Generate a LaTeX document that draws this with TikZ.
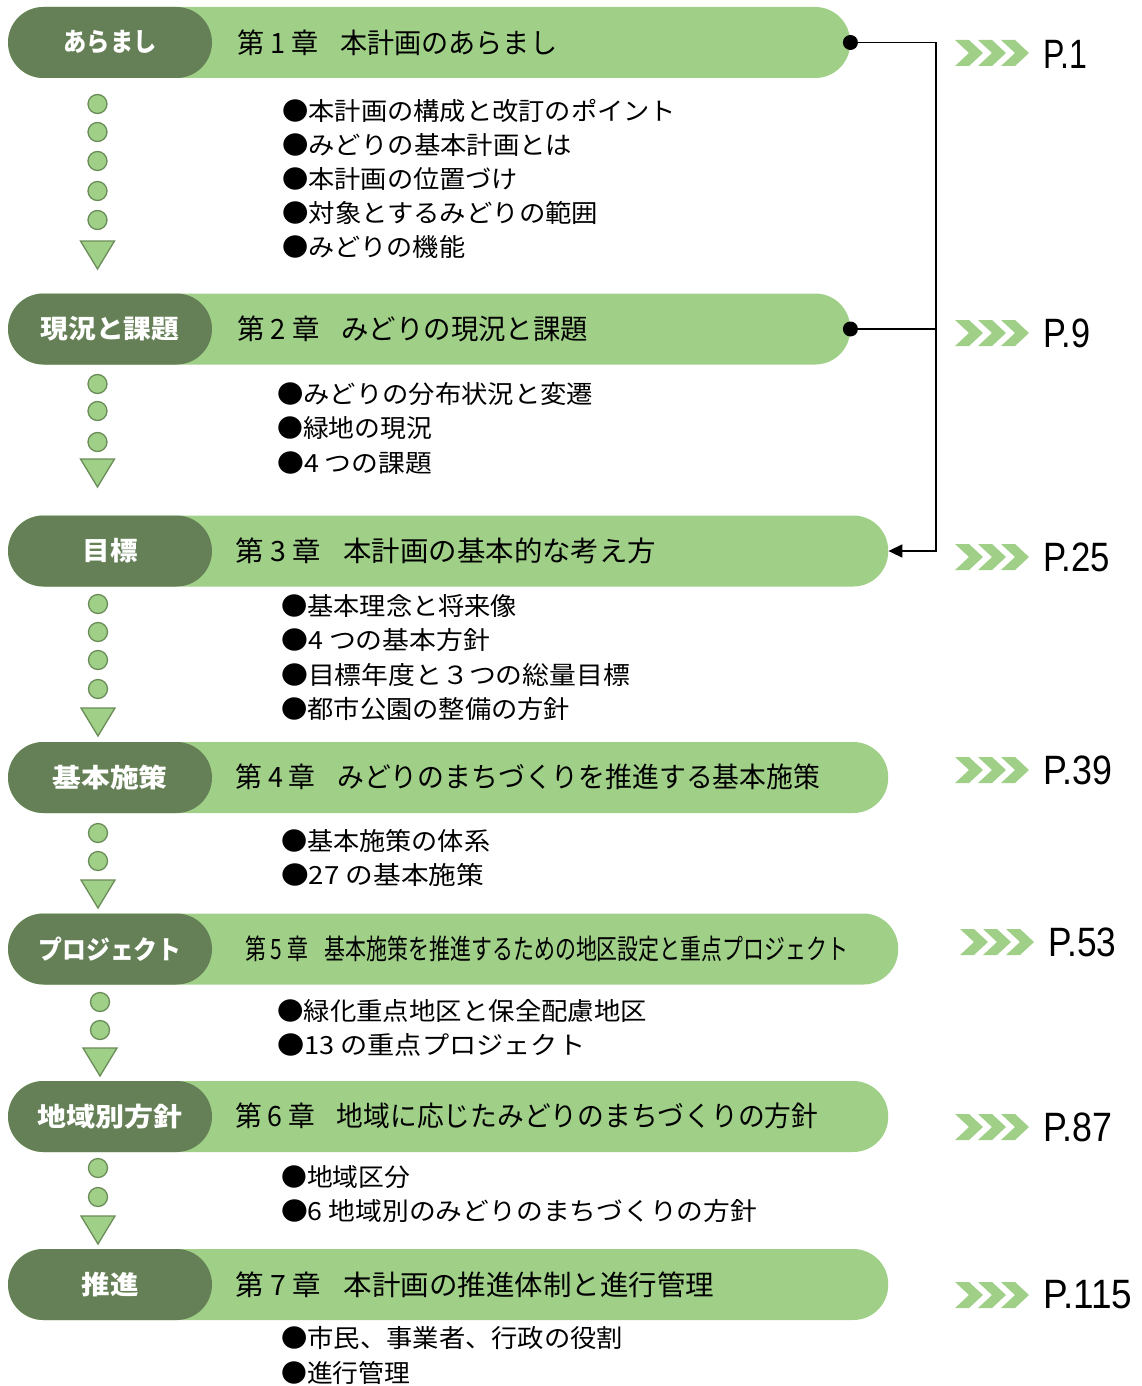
\documentclass[tikz,border=0pt]{standalone}
\usepackage{fontspec}
\usepackage{graphicx}
\setmainfont{Noto Sans CJK JP}
\newfontfamily\pgfont{Liberation Sans}
\usetikzlibrary{shapes.misc,arrows.meta}
\definecolor{dgreen}{HTML}{658056}
\definecolor{lgreen}{HTML}{A0D088}
\definecolor{cedge}{HTML}{6A8C58}
\newcommand{\fitw}[2]{\resizebox{#1pt}{\height}{#2}}
\newcommand{\chevs}[2]{\foreach \k in {0,1,2}{\fill[chevfill] ({#1+23*\k},{#2-13}) -- ++(14,0) -- ++(14,13) -- ++(-14,13) -- ++(-14,0) -- ++(14,-13) -- cycle;}}
\newcommand{\tridown}[2]{\draw[tri] ({#1-17},#2) -- ({#1+17},#2) -- (#1,{#2+28}) -- cycle;}
\begin{document}
\begin{tikzpicture}[x=1pt,y=-1pt,
 bar/.style={fill=lgreen, rounded corners=35pt, minimum height=71pt, inner sep=0pt, anchor=west},
 pill/.style={rounded rectangle, fill=dgreen, minimum width=204pt, minimum height=71pt, inner sep=0pt, text=white, font=\bfseries\fontsize{26}{26}\selectfont},
 title/.style={anchor=west, inner sep=0pt, font=\fontsize{28}{28}\selectfont},
 item/.style={anchor=west, inner sep=0pt, font=\fontsize{25}{25}\selectfont},
 dotc/.style={circle, fill=lgreen, draw=cedge, line width=1.3pt, minimum size=19pt, inner sep=0pt},
 tri/.style={fill=lgreen, draw=cedge, line width=1.3pt, line join=miter},
 chevfill/.style={fill=lgreen},
 page/.style={anchor=west, inner sep=0pt, font=\pgfont\fontsize{41}{41}\selectfont},
 joint/.style={circle, fill=black, minimum size=15pt, inner sep=0pt},
 link/.style={line width=1.6pt}
]
\fill[white] (0,0) rectangle (1142,1386);
\useasboundingbox (0,0) rectangle (1142,1386);

% ---- bars ----
\node[bar, minimum width=842pt] (b1) at (8,42.5) {};
\node[bar, minimum width=842pt] (b2) at (8,329) {};
\node[bar, minimum width=880pt] (b3) at (8,551) {};
\node[bar, minimum width=880pt] (b4) at (8,777.5) {};
\node[bar, minimum width=890pt] (b5) at (8,949) {};
\node[bar, minimum width=880pt] (b6) at (8,1116.5) {};
\node[bar, minimum width=880pt] (b7) at (8,1284.5) {};

\node[pill] (p1) at (110,42.5) {\fitw{93}{あらまし}};
\node[pill] (p2) at (110,329) {\fitw{139}{現況と課題}};
\node[pill] (p3) at (110,551) {\fitw{55}{目標}};
\node[pill] (p4) at (110,777.5) {\fitw{115}{基本施策}};
\node[pill] (p5) at (110,949) {\fitw{143}{プロジェクト}};
\node[pill] (p6) at (110,1116.5) {\fitw{145}{地域別方針}};
\node[pill] (p7) at (110,1284.5) {\fitw{57}{推進}};

\node[title] (t1) at (237,43) {\fitw{320}{第 1 章\hspace{0.8em}本計画のあらまし}};
\node[title] (t2) at (237,329) {\fitw{351}{第 2 章\hspace{0.8em}みどりの現況と課題}};
\node[title] (t3) at (235,551) {\fitw{421}{第 3 章\hspace{0.8em}本計画の基本的な考え方}};
\node[title] (t4) at (235,777) {\fitw{585}{第 4 章\hspace{0.8em}みどりのまちづくりを推進する基本施策}};
\node[title] (t5) at (245,949) {\fitw{603}{第 5 章\hspace{0.8em}基本施策を推進するための地区設定と重点プロジェクト}};
\node[title] (t6) at (235,1116) {\fitw{583}{第 6 章\hspace{0.8em}地域に応じたみどりのまちづくりの方針}};
\node[title] (t7) at (235,1285) {\fitw{479}{第 7 章\hspace{0.8em}本計画の推進体制と進行管理}};

% ---- items ----
\node[item] (i11) at (282,111) {\fitw{394}{●本計画の構成と改訂のポイント}};
\node[item] (i12) at (282,145) {\fitw{290}{●みどりの基本計画とは}};
\node[item] (i13) at (282,179) {\fitw{236}{●本計画の位置づけ}};
\node[item] (i14) at (282,213) {\fitw{316}{●対象とするみどりの範囲}};
\node[item] (i15) at (282,247) {\fitw{183}{●みどりの機能}};

\node[item] (i21) at (277,394) {\fitw{316}{●みどりの分布状況と変遷}};
\node[item] (i22) at (277,428) {\fitw{155}{●緑地の現況}};
\node[item] (i23) at (277,463) {\fitw{155}{●4 つの課題}};

\node[item] (i31) at (281,606) {\fitw{236}{●基本理念と将来像}};
\node[item] (i32) at (281,640) {\fitw{209}{●4 つの基本方針}};
\node[item] (i33) at (281,675) {\fitw{349}{●目標年度と３つの総量目標}};
\node[item] (i34) at (281,709) {\fitw{289}{●都市公園の整備の方針}};

\node[item] (i41) at (281,841) {\fitw{209}{●基本施策の体系}};
\node[item] (i42) at (281,875) {\fitw{203}{●27 の基本施策}};

\node[item] (i51) at (277,1011) {\fitw{370}{●緑化重点地区と保全配慮地区}};
\node[item] (i52) at (277,1045) {\fitw{308}{●13 の重点プロジェクト}};

\node[item] (i61) at (281,1177) {\fitw{129}{●地域区分}};
\node[item] (i62) at (281,1211) {\fitw{476}{●6 地域別のみどりのまちづくりの方針}};

\node[item] (i71) at (281,1338) {\fitw{342}{●市民、事業者、行政の役割}};
\node[item] (i72) at (281,1373) {\fitw{129}{●進行管理}};

% ---- progress markers ----
\foreach \yy in {104,132,161,191,220} {\node[dotc] at (97.5,\yy) {};}
\tridown{97.5}{241}
\foreach \yy in {384,411,442} {\node[dotc] at (97.5,\yy) {};}
\tridown{97.5}{459}
\foreach \yy in {604,632,660,689} {\node[dotc] at (98,\yy) {};}
\tridown{98}{708}
\foreach \yy in {833,861} {\node[dotc] at (98,\yy) {};}
\tridown{98}{880}
\foreach \yy in {1002,1030} {\node[dotc] at (100,\yy) {};}
\tridown{100}{1048}
\foreach \yy in {1168,1197} {\node[dotc] at (98,\yy) {};}
\tridown{98}{1216}

% ---- connector ----
\node[joint] (d1) at (b1.east) {};
\node[joint] (d2) at (b2.east) {};
\coordinate (j1) at (936,42.5);
\coordinate (j2) at (936,329);
\draw[link] (d1.center) -- (j1);
\draw[link] (d2.center) -- (j2);
\draw[link,-{Triangle[length=14pt,width=13pt]}] (j1) |- (b3.east);

% ---- page references ----
\chevs{955}{53}
\node[page] (g1) at (1043,54) {\fitw{44}{P.1}};
\chevs{955}{333}
\node[page] (g2) at (1043,333) {\fitw{47}{P.9}};
\chevs{955}{557}
\node[page] (g3) at (1043,557) {\fitw{67}{P.25}};
\chevs{955}{770}
\node[page] (g4) at (1043,770) {\fitw{69}{P.39}};
\chevs{960}{942}
\node[page] (g5) at (1048,942) {\fitw{68}{P.53}};
\chevs{955}{1127}
\node[page] (g6) at (1043,1127) {\fitw{69}{P.87}};
\chevs{955}{1295}
\node[page] (g7) at (1043,1295) {\fitw{89}{P.115}};
\end{tikzpicture}
\end{document}
